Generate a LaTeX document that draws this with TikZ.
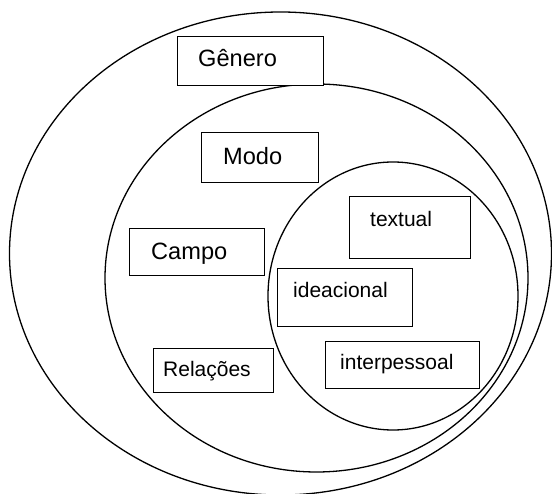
\documentclass[tikz,border=0pt]{standalone}
\usepackage{fontspec}
\setmainfont{Liberation Sans}
\begin{document}
\begin{tikzpicture}[x=1pt,y=-1pt,
  ring/.style={line width=1.3pt},
  box/.style={draw, line width=1.3pt, fill=white, rectangle, inner sep=0pt, anchor=north west},
  bigtxt/.style={anchor=base west, inner sep=0pt, font=\fontsize{23.6}{28}\selectfont},
  smalltxt/.style={anchor=base west, inner sep=0pt, font=\fontsize{21}{25}\selectfont}]
\useasboundingbox (0,0) rectangle (552,494);
% ellipses
\draw[ring] (280.5,253.5) ellipse [x radius=271pt, y radius=241.5pt];
\draw[ring] (316.5,278) ellipse [x radius=211.5pt, y radius=194pt];
\draw[ring] (393,296) ellipse [x radius=125pt, y radius=134pt];
% boxes
\node[box, minimum width=146pt, minimum height=49pt] (gen) at (177,36) {};
\node[bigtxt] (gent) at (198,67) {Gênero};
\node[box, minimum width=117pt, minimum height=50pt] (modo) at (201,132) {};
\node[bigtxt] (modot) at (223,165) {Modo};
\node[box, minimum width=135pt, minimum height=47pt] (campo) at (129,228) {};
\node[bigtxt] (campot) at (151,259.5) {Campo};
\node[box, minimum width=120pt, minimum height=44pt] (rel) at (153,348) {};
\node[smalltxt] (relt) at (163,377) {Relações};
\node[box, minimum width=121pt, minimum height=62pt] (text) at (349,196) {};
\node[smalltxt] (textt) at (370,227) {textual};
\node[box, minimum width=135pt, minimum height=58pt] (idea) at (277,268) {};
\node[smalltxt] (ideat) at (293,298) {ideacional};
\node[box, minimum width=154pt, minimum height=47pt] (inter) at (325,341) {};
\node[smalltxt] (intert) at (340,370) {interpessoal};
\end{tikzpicture}
\end{document}
